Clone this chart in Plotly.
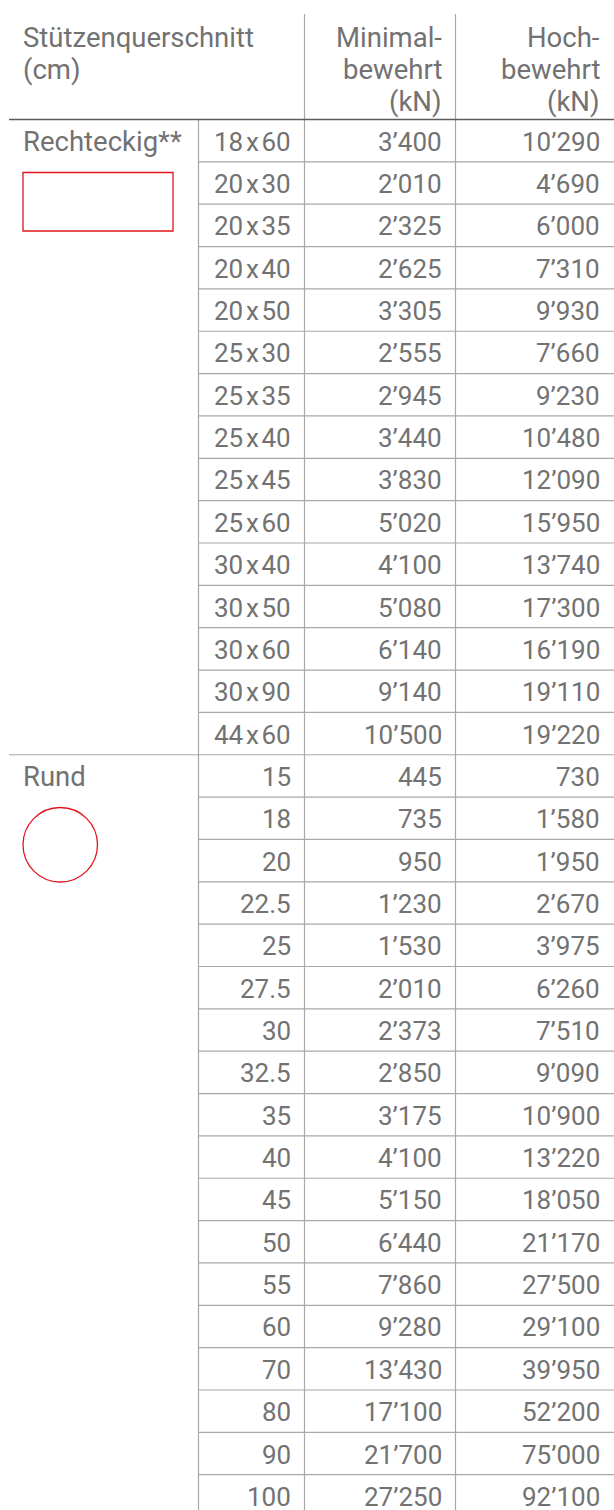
import plotly.graph_objects as go

# ---- data ----
rect_sizes = ["18x60", "20x30", "20x35", "20x40", "20x50", "25x30", "25x35", "25x40",
              "25x45", "25x60", "30x40", "30x50", "30x60", "30x90", "44x60"]
rect_min = [3400, 2010, 2325, 2625, 3305, 2555, 2945, 3440, 3830, 5020, 4100, 5080, 6140, 9140, 10500]
rect_high = [10290, 4690, 6000, 7310, 9930, 7660, 9230, 10480, 12090, 15950, 13740, 17300, 16190, 19110, 19220]

round_sizes = ["15", "18", "20", "22.5", "25", "27.5", "30", "32.5", "35", "40", "45", "50",
               "55", "60", "70", "80", "90", "100"]
round_min = [445, 735, 950, 1230, 1530, 2010, 2373, 2850, 3175, 4100, 5150, 6440, 7860, 9280,
             13430, 17100, 21700, 27250]
round_high = [730, 1580, 1950, 2670, 3975, 6260, 7510, 9090, 10900, 13220, 18050, 21170, 27500,
              29100, 39950, 52200, 75000, 92100]

groups = ["Rechteckig**", "Rund"]
header_main = ["Stützenquerschnitt", "(cm)"]
header_min = ["Minimal-", "bewehrt", "(kN)"]
header_high = ["Hoch-", "bewehrt", "(kN)"]

# ---- layout constants ----
W, H = 614, 1510
FONT = "Roboto, Inter, sans-serif"
FS_NUM = 26
FS_WORD = 27.5
TXT = "#727272"
LINE = "#a8a8a8"
DARK = "#5c5c5c"
RED = "#e3141e"

top = 14
hdr_bottom = 119.5
row_h = 42.35
x_c1, x_c2, x_c3 = 198.5, 304.5, 455.5
x_left = 9
pad = 12
dy = 1.0


def fmt(v):
    s = f"{v:,}"
    return s.replace(",", "\u2019")


def fmt_size(s):
    return s.replace("x", "\u200ax\u200a")


rows = []
for i, s in enumerate(rect_sizes):
    rows.append((fmt_size(s), rect_min[i], rect_high[i]))
for i, s in enumerate(round_sizes):
    rows.append((s, round_min[i], round_high[i]))

fig = go.Figure()
shapes = []
ann = []


def line(x0, y0, x1, y1, color, w=1.2):
    shapes.append(dict(type="line", xref="x", yref="y", x0=x0, y0=y0, x1=x1, y1=y1,
                       line=dict(color=color, width=w), layer="above"))


def text(x, y, t, anchor, fs):
    ann.append(dict(x=x, y=y, xref="x", yref="y", text=t, showarrow=False,
                    xanchor=anchor, yanchor="middle",
                    font=dict(family=FONT, size=fs, color=TXT)))


# vertical lines
line(x_c2, top, x_c2, H, LINE)
line(x_c3, top, x_c3, H, LINE)
line(x_c1, hdr_bottom, x_c1, H, LINE)

n = len(rows)
n_rect = len(rect_sizes)
for i in range(1, n + 1):
    y = hdr_bottom + i * row_h
    if i == n_rect:
        line(x_left, y, W, y, LINE)
    elif i < n:
        line(x_c1, y, W, y, LINE)
line(x_left, hdr_bottom, W, hdr_bottom, DARK, 1.4)

# header
hy = [37, 69, 101]
for k, t in enumerate(header_main):
    text(21, hy[k], t, "left", FS_WORD)
for k, t in enumerate(header_min):
    text(x_c3 - pad, hy[k], t, "right", FS_WORD)
for k, t in enumerate(header_high):
    text(W - pad, hy[k], t, "right", FS_WORD)

# body
for i, (s, mn, hi) in enumerate(rows):
    yc = hdr_bottom + (i + 0.5) * row_h + dy
    text(x_c2 - pad, yc, s, "right", FS_NUM)
    text(x_c3 - pad, yc, fmt(mn), "right", FS_NUM)
    text(W - pad, yc, fmt(hi), "right", FS_NUM)

# group labels
text(21, hdr_bottom + 0.5 * row_h + dy, groups[0], "left", FS_WORD)
text(21, hdr_bottom + (n_rect + 0.5) * row_h + dy, groups[1], "left", FS_WORD)

# shape icons
shapes.append(dict(type="rect", xref="x", yref="y", x0=23, y0=172.5, x1=173, y1=231,
                   line=dict(color=RED, width=1.3), fillcolor="rgba(0,0,0,0)"))
shapes.append(dict(type="circle", xref="x", yref="y", x0=23, y0=807.5, x1=97.5, y1=882,
                   line=dict(color=RED, width=1.3), fillcolor="rgba(0,0,0,0)"))

fig.update_layout(
    width=W, height=H, margin=dict(l=0, r=0, t=0, b=0),
    paper_bgcolor="white", plot_bgcolor="white",
    xaxis=dict(range=[0, W], visible=False, fixedrange=True),
    yaxis=dict(range=[H, 0], visible=False, fixedrange=True),
    shapes=shapes, annotations=ann, showlegend=False,
)
fig.write_html(
    "out.html",
    config={"displayModeBar": False},
    post_script="document.body.style.margin='0';document.body.style.overflow='hidden';",
)
